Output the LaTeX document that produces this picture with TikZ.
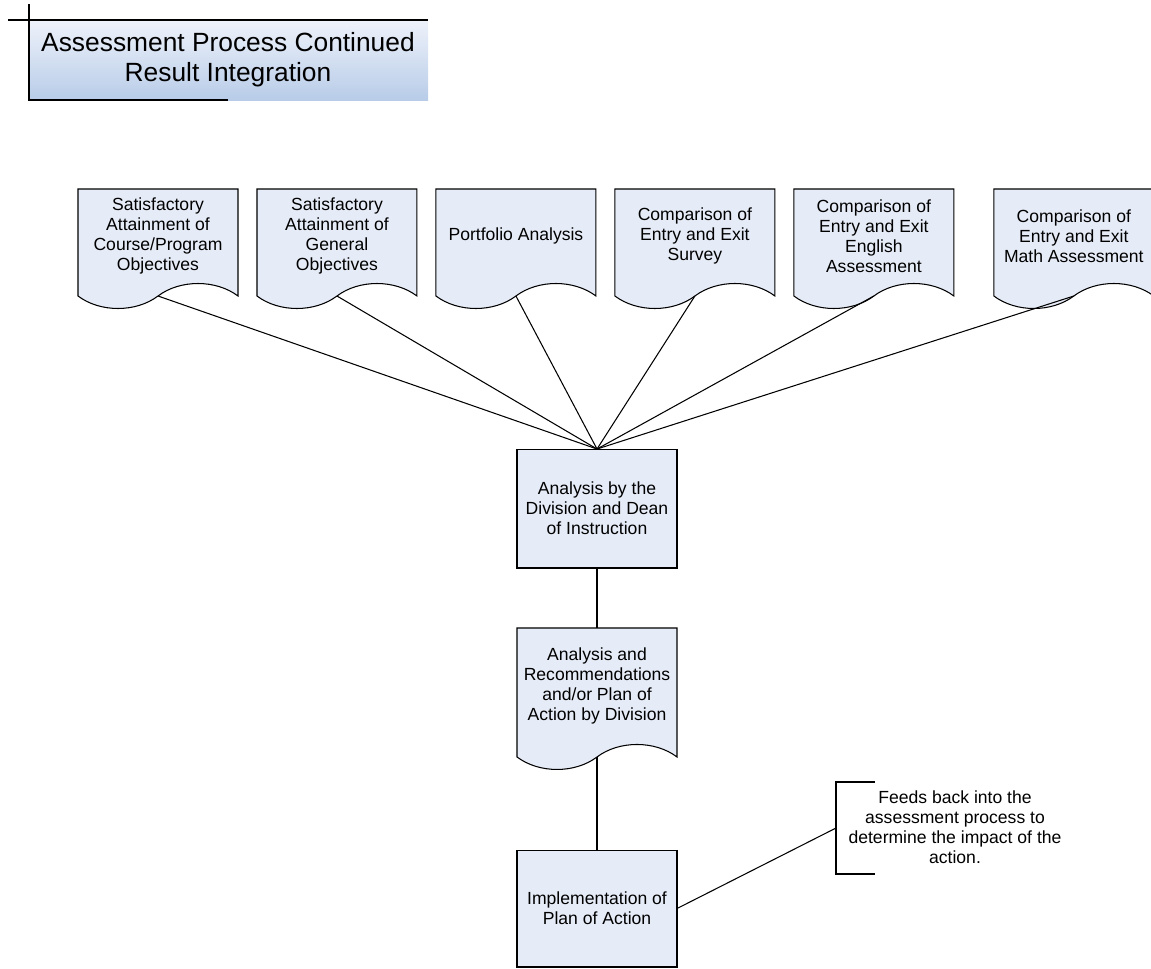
\documentclass[tikz,border=0pt]{standalone}
\usepackage{fontspec}
\setmainfont{Liberation Sans}
\usetikzlibrary{positioning}
\usetikzlibrary{shapes.symbols}

\definecolor{boxfill}{RGB}{230,236,247}
\definecolor{headtop}{RGB}{238,242,250}
\definecolor{headbot}{RGB}{184,204,232}
\newcommand{\boxfont}{\fontsize{10}{11.4}\selectfont}

\tikzset{
	docbox/.style={tape,tape bend top=none,tape bend bottom=in and out,tape bend height=.5cm,draw=black,fill=boxfill,line width=.6pt,minimum width=3.2cm,minimum height=2.39cm,inner sep=1pt,outer sep=0pt,align=center,font=\boxfont},
	procbox/.style={rectangle,draw=black,fill=boxfill,line width=.6pt,minimum width=3.2cm,inner sep=1pt,outer sep=0pt,align=center,font=\boxfont},
	link/.style={line width=.6pt}
}

\begin{document}
\begin{tikzpicture}[x=0.02cm,y=-0.02cm]
	\useasboundingbox (0,0) rectangle (1151,968);

	% title block
	\shade [top color=headtop,bottom color=headbot] (29,20) rectangle (428,100);
	\draw [line width=1.1pt] (8,20) -- (428,20);
	\draw [line width=1.1pt] (29,4) -- (29,100) -- (228,100);
	\node [align=center,font=\fontsize{15}{17}\selectfont] at (228,60) (title) {Assessment Process Continued\\Result Integration};

	% results
	\node [docbox] at (158,236.25) (attain_course) {Satisfactory\\Attainment of\\Course/Program\\Objectives};
	\node [docbox,right=.38cm of attain_course] (attain_gen) {Satisfactory\\Attainment of\\General\\Objectives};
	\node [docbox,right=.38cm of attain_gen] (portfolio) {Portfolio Analysis};
	\node [docbox,right=.38cm of portfolio] (cmp_survey) {Comparison of\\Entry and Exit\\Survey};
	\node [docbox,right=.38cm of cmp_survey] (cmp_english) {Comparison of\\Entry and Exit\\English\\Assessment};
	\node [docbox,right=.8cm of cmp_english] (cmp_math) {Comparison of\\Entry and Exit\\Math Assessment};

	% analysis chain
	\node [procbox,minimum height=2.38cm] at (597,508.5) (analysis) {Analysis by the\\Division and Dean\\of Instruction};
	\node [docbox,minimum height=2.83cm,below=1.2cm of analysis] (recommend) {Analysis and\\Recommendations\\and/or Plan of\\Action by Division};
	\node [procbox,minimum height=2.34cm] at (597,908.5) (implement) {Implementation of\\Plan of Action};

	% annotation
	\node [align=center,font=\boxfont] at (955,827) (feedback) {Feeds back into the\\assessment process to\\determine the impact of the\\action.};
	\coordinate (brace) at (836,828);
	\draw [link] (875,782) -- (836,782) -- (836,874) -- (875,874);

	\foreach \src in {attain_course,attain_gen,portfolio,cmp_survey,cmp_english,cmp_math}
		\draw [link] ([yshift=-.25cm]\src.south) -- (analysis.north);
	\draw [link] (analysis.south) -- (recommend.north);
	\draw [link] ([yshift=-.25cm]recommend.south) -- (implement.north);
	\draw [link] (implement.east) -- (brace);
\end{tikzpicture}
\end{document}
